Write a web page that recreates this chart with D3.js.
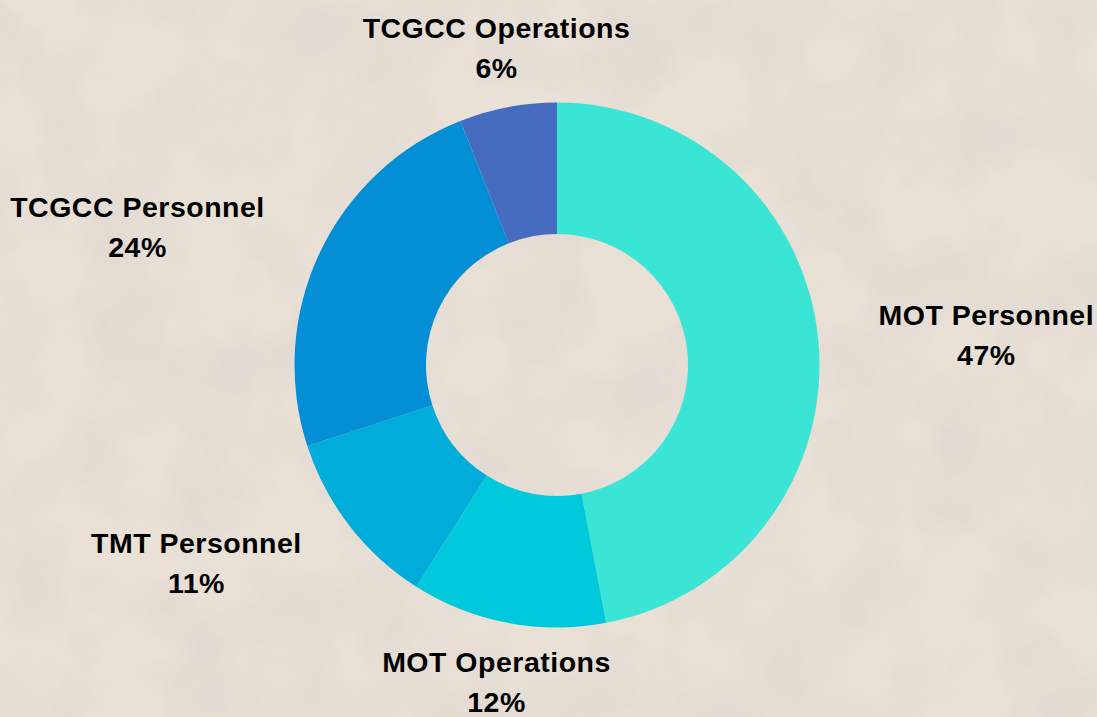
<!DOCTYPE html>
<html>
<head>
<meta charset="utf-8">
<script src="https://cdn.jsdelivr.net/npm/d3@7"></script>
<style>
  html, body { margin: 0; padding: 0; background: #e8dfd5; }
  svg { display: block; }
</style>
</head>
<body>
<div id="chart"></div>
<script>
// Données
const categories = ["MOT Personnel", "MOT Operations", "TMT Personnel", "TCGCC Personnel", "TCGCC Operations"];
const values = [47, 12, 11, 24, 6];
const colors = ["#3be5d5", "#00c9db", "#00acd9", "#038ed5", "#456cbe"];

const width = 1097, height = 717;
const cx = 557, cy = 365;
const outerR = 262.5, innerR = 131, labelR = 323;

const svg = d3.select("#chart").append("svg")
    .attr("width", width)
    .attr("height", height);

// Fond texturé (approximation du papier)
const defs = svg.append("defs");
const filt = defs.append("filter").attr("id", "paper")
    .attr("x", 0).attr("y", 0).attr("width", "100%").attr("height", "100%");
filt.append("feTurbulence")
    .attr("type", "fractalNoise")
    .attr("baseFrequency", 0.012)
    .attr("numOctaves", 4)
    .attr("seed", 7);
filt.append("feColorMatrix")
    .attr("type", "matrix")
    .attr("values", "0 0 0 0 0.62  0 0 0 0 0.60  0 0 0 0 0.58  0 0 0 -1.6 1.05");

svg.append("rect").attr("width", width).attr("height", height).attr("fill", "#e9e0d6");
svg.append("rect").attr("width", width).attr("height", height)
    .attr("filter", "url(#paper)").attr("opacity", 0.35);

const data = categories.map((c, i) => ({ name: c, value: values[i], color: colors[i] }));

const pie = d3.pie().value(d => d.value).sort(null);
const arc = d3.arc().innerRadius(innerR).outerRadius(outerR);
const labelArc = d3.arc().innerRadius(labelR).outerRadius(labelR);

const g = svg.append("g").attr("transform", `translate(${cx},${cy})`);

const arcs = pie(data);

g.selectAll("path.slice")
    .data(arcs)
    .enter()
    .append("path")
    .attr("class", "slice")
    .attr("d", arc)
    .attr("fill", d => d.data.color);

// Étiquettes
const labels = g.selectAll("text.label")
    .data(arcs)
    .enter()
    .append("text")
    .attr("class", "label")
    .attr("transform", d => {
        const [x, y] = labelArc.centroid(d);
        return `translate(${x},${y})`;
    })
    .attr("text-anchor", d => {
        const a = (d.startAngle + d.endAngle) / 2;
        const s = Math.sin(a);
        if (s > 0.5) return "start";
        if (s < -0.5) return "end";
        return "middle";
    })
    .style("font-family", "'Liberation Sans', Arial, sans-serif")
    .style("font-weight", "bold")
    .style("font-size", "28.5px")
    .style("letter-spacing", "0.5px")
    .style("fill", "#000");

labels.each(function(d) {
    const t = d3.select(this);
    const anchor = t.attr("text-anchor");
    t.append("tspan").attr("x", 0).attr("y", -10).text(d.data.name);
    // pourcentage centré sous le nom
    const w = this.firstChild.getComputedTextLength();
    let px = 0;
    if (anchor === "start") px = w / 2;
    if (anchor === "end") px = -w / 2;
    t.append("tspan").attr("x", px).attr("y", 30)
        .attr("text-anchor", "middle")
        .text(d.data.value + "%");
});
</script>
</body>
</html>
